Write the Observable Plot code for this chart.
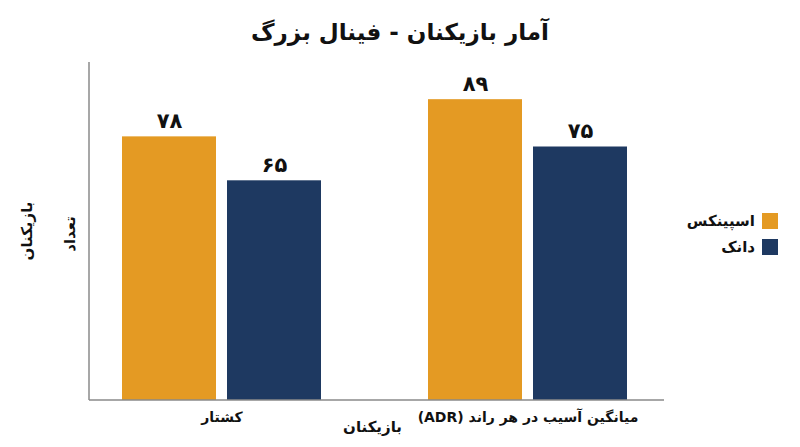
<!DOCTYPE html>
<html>
<head>
<meta charset="utf-8">
<script src="https://cdn.jsdelivr.net/npm/d3@7"></script>
<script src="https://cdn.jsdelivr.net/npm/@observablehq/plot@0.6"></script>
<style>
  body { margin: 0; background: #fff; font-family: "DejaVu Sans", sans-serif; }
  #wrap { position: relative; width: 800px; height: 447px; overflow: hidden; }
  #title { height: 55px; line-height: 64px; text-align: center; font-size: 23px; font-weight: bold; color: #111; direction: rtl; }
  #legend { position: absolute; left: 640px; top: 208px; width: 138px; direction: rtl; }
  .li { display: flex; flex-direction: row; align-items: center; height: 26px; font-size: 15px; font-weight: bold; color: #111; }
  .sw { width: 16px; height: 16px; margin-left: 7px; }
  svg text { direction: rtl; unicode-bidi: embed; }
</style>
</head>
<body>
<div id="wrap">
  <div id="title"></div>
  <div id="chart"></div>
  <div id="legend"></div>
</div>
<script>
const titleText = "آمار بازیکنان - فینال بزرگ";
const metrics = ["کشتار", "میانگین آسیب در هر راند (ADR)"];
const teams = ["اسپینکس", "دانک"];
const teamColors = ["#E49A23", "#1E3961"];
const valuesSpinx = [78, 89];
const valuesDank = [65, 75];
const yLabel = "تعداد";
const xLabel = "بازیکنان";
const legendTitle = "بازیکنان";

const faDigits = "۰۱۲۳۴۵۶۷۸۹";
const fa = v => String(v).replace(/\d/g, d => faDigits[d]);

const data = [];
metrics.forEach((m, i) => {
  data.push({metric: m, team: teams[0], value: valuesSpinx[i]});
  data.push({metric: m, team: teams[1], value: valuesDank[i]});
});

document.getElementById("title").textContent = titleText;

const W = 800, H = 392;
const mL = 89, mR = 141, mT = 7, mB = 47;
const axisRight = 664;

const plot = Plot.plot({
  width: W, height: H,
  marginTop: mT, marginBottom: mB, marginLeft: mL, marginRight: mR,
  style: {fontFamily: "DejaVu Sans, sans-serif", color: "#111", background: "#fff"},
  fx: {domain: metrics, paddingInner: 0.35, paddingOuter: 0.105, label: null},
  x: {domain: teams, paddingInner: 0.105, paddingOuter: 0, axis: null},
  y: {domain: [0, 100], axis: null},
  color: {domain: teams, range: teamColors},
  marks: [
    Plot.barY(data, {fx: "metric", x: "team", y: "value", fill: "team"}),
    Plot.text(data, {fx: "metric", x: "team", y: "value", text: d => fa(d.value), dy: -9, lineAnchor: "bottom", fontSize: 21, fontWeight: "bold", fill: "#111"}),
    Plot.axisFx({anchor: "bottom", tickSize: 0, tickPadding: 12, fontSize: 14, fontWeight: "bold", label: null})
  ]
});
document.getElementById("chart").appendChild(plot);

// axis lines and axis titles
const svg = d3.select(plot);
const y = plot.scale("y");
const y0 = y.apply(0), yTop = y.apply(100);
svg.append("line").attr("x1", mL).attr("x2", mL).attr("y1", yTop).attr("y2", y0)
  .attr("stroke", "#8a8a8a").attr("stroke-width", 1.5);
svg.append("line").attr("x1", mL).attr("x2", axisRight).attr("y1", y0).attr("y2", y0)
  .attr("stroke", "#8a8a8a").attr("stroke-width", 1.5);
const midY = (y0 + yTop) / 2;
svg.append("text").text(yLabel)
  .attr("transform", `translate(70,${midY + 3}) rotate(-90)`)
  .attr("text-anchor", "middle").attr("dominant-baseline", "middle")
  .attr("font-size", 15).attr("font-weight", "bold").attr("fill", "#111");
svg.append("text").text(legendTitle)
  .attr("transform", `translate(27,${midY}) rotate(-90)`)
  .attr("text-anchor", "middle").attr("dominant-baseline", "middle")
  .attr("font-size", 15).attr("font-weight", "bold").attr("fill", "#111");
svg.append("text").text(xLabel)
  .attr("x", (mL + axisRight) / 2 - 4).attr("y", y0 + 27)
  .attr("text-anchor", "middle").attr("dominant-baseline", "middle")
  .attr("font-size", 15).attr("font-weight", "bold").attr("fill", "#111");

// legend
const legend = document.getElementById("legend");
teams.forEach((t, i) => {
  const row = document.createElement("div");
  row.className = "li";
  row.innerHTML = `<span class="sw" style="background:${teamColors[i]}"></span><span>${t}</span>`;
  legend.appendChild(row);
});
</script>
</body>
</html>
